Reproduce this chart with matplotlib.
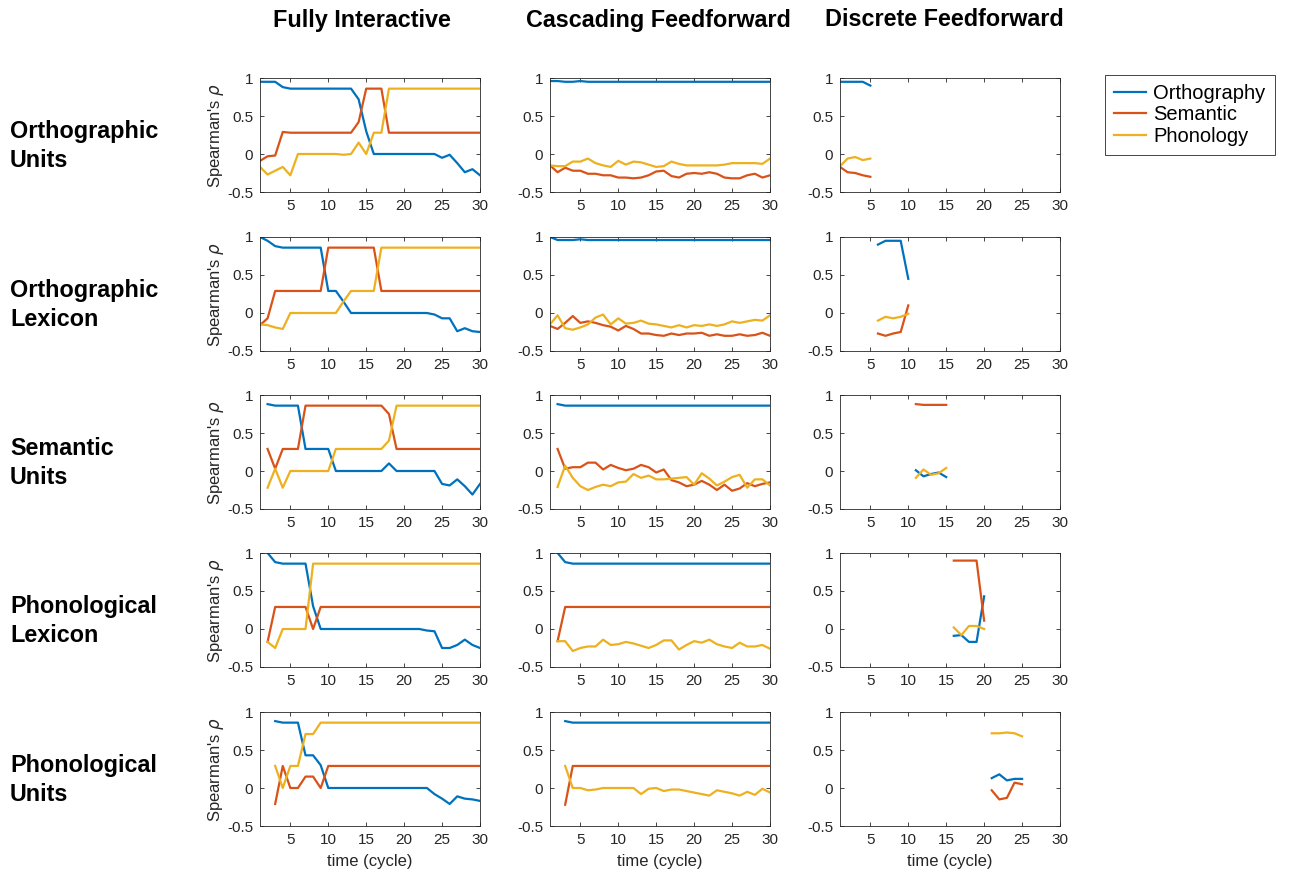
import numpy as np
import matplotlib
matplotlib.use('Agg')
import matplotlib.pyplot as plt

plt.rcParams['font.family'] = ['Liberation Sans', 'DejaVu Sans']
plt.rcParams['mathtext.fontset'] = 'dejavusans'

# column / row names
models = ['Fully Interactive', 'Cascading Feedforward', 'Discrete Feedforward']
layers = ['Orthographic\nUnits', 'Orthographic\nLexicon', 'Semantic\nUnits',
          'Phonological\nLexicon', 'Phonological\nUnits']
series_names = ['Orthography', 'Semantic', 'Phonology']

# ---- Fully Interactive ----
fi_ou_start = 1
fi_ou_orth = [0.95, 0.95, 0.95, 0.88, 0.86, 0.86, 0.86, 0.86, 0.86, 0.86, 0.86, 0.86, 0.86, 0.72, 0.30,
              0.00, 0.00, 0.00, 0.00, 0.00, 0.00, 0.00, 0.00, 0.00, -0.05, -0.01, -0.12, -0.24, -0.20, -0.28]
fi_ou_sem = [-0.09, -0.03, -0.02, 0.29, 0.28, 0.28, 0.28, 0.28, 0.28, 0.28, 0.28, 0.28, 0.28, 0.42, 0.86,
             0.86, 0.86, 0.28, 0.28, 0.28, 0.28, 0.28, 0.28, 0.28, 0.28, 0.28, 0.28, 0.28, 0.28, 0.28]
fi_ou_phon = [-0.17, -0.27, -0.22, -0.17, -0.28, 0.00, 0.00, 0.00, 0.00, 0.00, 0.00, -0.01, 0.00, 0.15, 0.00,
              0.28, 0.28, 0.86, 0.86, 0.86, 0.86, 0.86, 0.86, 0.86, 0.86, 0.86, 0.86, 0.86, 0.86, 0.86]

fi_ol_start = 1
fi_ol_orth = [1.00, 0.95, 0.88, 0.86, 0.86, 0.86, 0.86, 0.86, 0.86, 0.29, 0.29, 0.15, 0.00, 0.00, 0.00,
              0.00, 0.00, 0.00, 0.00, 0.00, 0.00, 0.00, 0.00, -0.02, -0.07, -0.07, -0.24, -0.20, -0.24, -0.25]
fi_ol_sem = [-0.16, -0.07, 0.29, 0.29, 0.29, 0.29, 0.29, 0.29, 0.29, 0.86, 0.86, 0.86, 0.86, 0.86, 0.86,
             0.86, 0.29, 0.29, 0.29, 0.29, 0.29, 0.29, 0.29, 0.29, 0.29, 0.29, 0.29, 0.29, 0.29, 0.29]
fi_ol_phon = [-0.15, -0.16, -0.19, -0.21, 0.00, 0.00, 0.00, 0.00, 0.00, 0.00, 0.00, 0.15, 0.29, 0.29, 0.29,
              0.29, 0.86, 0.86, 0.86, 0.86, 0.86, 0.86, 0.86, 0.86, 0.86, 0.86, 0.86, 0.86, 0.86, 0.86]

fi_su_start = 2
fi_su_orth = [0.88, 0.86, 0.86, 0.86, 0.86, 0.29, 0.29, 0.29, 0.29, 0.00, 0.00, 0.00, 0.00, 0.00, 0.00,
              0.00, 0.10, 0.00, 0.00, 0.00, 0.00, 0.00, 0.00, -0.17, -0.19, -0.11, -0.20, -0.31, -0.17]
fi_su_sem = [0.29, 0.03, 0.29, 0.29, 0.29, 0.86, 0.86, 0.86, 0.86, 0.86, 0.86, 0.86, 0.86, 0.86, 0.86,
             0.86, 0.75, 0.29, 0.29, 0.29, 0.29, 0.29, 0.29, 0.29, 0.29, 0.29, 0.29, 0.29, 0.29]
fi_su_phon = [-0.22, 0.03, -0.22, 0.00, 0.00, 0.00, 0.00, 0.00, 0.00, 0.29, 0.29, 0.29, 0.29, 0.29, 0.29,
              0.29, 0.40, 0.86, 0.86, 0.86, 0.86, 0.86, 0.86, 0.86, 0.86, 0.86, 0.86, 0.86, 0.86]

fi_pl_start = 2
fi_pl_orth = [1.00, 0.88, 0.86, 0.86, 0.86, 0.86, 0.30, 0.00, 0.00, 0.00, 0.00, 0.00, 0.00, 0.00, 0.00,
              0.00, 0.00, 0.00, 0.00, 0.00, 0.00, -0.02, -0.03, -0.25, -0.25, -0.21, -0.14, -0.21, -0.25]
fi_pl_sem = [-0.17, 0.29, 0.29, 0.29, 0.29, 0.29, 0.00, 0.29, 0.29, 0.29, 0.29, 0.29, 0.29, 0.29, 0.29,
             0.29, 0.29, 0.29, 0.29, 0.29, 0.29, 0.29, 0.29, 0.29, 0.29, 0.29, 0.29, 0.29, 0.29]
fi_pl_phon = [-0.17, -0.25, 0.00, 0.00, 0.00, 0.00, 0.86, 0.86, 0.86, 0.86, 0.86, 0.86, 0.86, 0.86, 0.86,
              0.86, 0.86, 0.86, 0.86, 0.86, 0.86, 0.86, 0.86, 0.86, 0.86, 0.86, 0.86, 0.86, 0.86]

fi_pu_start = 3
fi_pu_orth = [0.88, 0.86, 0.86, 0.86, 0.43, 0.43, 0.30, 0.00, 0.00, 0.00, 0.00, 0.00, 0.00, 0.00, 0.00,
              0.00, 0.00, 0.00, 0.00, 0.00, 0.00, -0.08, -0.14, -0.21, -0.11, -0.14, -0.15, -0.17]
fi_pu_sem = [-0.21, 0.29, 0.00, 0.00, 0.15, 0.15, 0.00, 0.29, 0.29, 0.29, 0.29, 0.29, 0.29, 0.29, 0.29,
             0.29, 0.29, 0.29, 0.29, 0.29, 0.29, 0.29, 0.29, 0.29, 0.29, 0.29, 0.29, 0.29]
fi_pu_phon = [0.29, 0.00, 0.29, 0.29, 0.71, 0.71, 0.86, 0.86, 0.86, 0.86, 0.86, 0.86, 0.86, 0.86, 0.86,
              0.86, 0.86, 0.86, 0.86, 0.86, 0.86, 0.86, 0.86, 0.86, 0.86, 0.86, 0.86, 0.86]

# ---- Cascading Feedforward ----
cf_ou_start = 1
cf_ou_orth = [0.96, 0.96, 0.95, 0.95, 0.96, 0.95, 0.95, 0.95, 0.95, 0.95, 0.95, 0.95, 0.95, 0.95, 0.95,
              0.95, 0.95, 0.95, 0.95, 0.95, 0.95, 0.95, 0.95, 0.95, 0.95, 0.95, 0.95, 0.95, 0.95, 0.95]
cf_ou_sem = [-0.15, -0.24, -0.18, -0.22, -0.22, -0.26, -0.26, -0.28, -0.28, -0.31, -0.31, -0.32, -0.31, -0.28, -0.23,
             -0.22, -0.29, -0.31, -0.26, -0.25, -0.26, -0.24, -0.26, -0.31, -0.32, -0.32, -0.28, -0.26, -0.31, -0.28]
cf_ou_phon = [-0.15, -0.16, -0.16, -0.10, -0.10, -0.06, -0.12, -0.15, -0.17, -0.09, -0.14, -0.10, -0.11, -0.14, -0.17,
              -0.16, -0.10, -0.13, -0.15, -0.15, -0.15, -0.15, -0.15, -0.14, -0.12, -0.12, -0.12, -0.12, -0.13, -0.06]

cf_ol_start = 1
cf_ol_orth = [1.00, 0.96, 0.96, 0.96, 0.97, 0.96, 0.96, 0.96, 0.96, 0.96, 0.96, 0.96, 0.96, 0.96, 0.96,
              0.96, 0.96, 0.96, 0.96, 0.96, 0.96, 0.96, 0.96, 0.96, 0.96, 0.96, 0.96, 0.96, 0.96, 0.96]
cf_ol_sem = [-0.17, -0.21, -0.13, -0.04, -0.13, -0.11, -0.13, -0.16, -0.18, -0.23, -0.17, -0.21, -0.27, -0.27, -0.29,
             -0.30, -0.27, -0.29, -0.27, -0.27, -0.26, -0.30, -0.28, -0.30, -0.30, -0.28, -0.30, -0.29, -0.26, -0.30]
cf_ol_phon = [-0.15, -0.03, -0.20, -0.22, -0.19, -0.15, -0.06, -0.02, -0.15, -0.07, -0.14, -0.13, -0.10, -0.14, -0.15,
              -0.17, -0.19, -0.16, -0.19, -0.16, -0.17, -0.15, -0.17, -0.15, -0.11, -0.13, -0.11, -0.09, -0.10, -0.03]

cf_su_start = 2
cf_su_orth = [0.88, 0.86, 0.86, 0.86, 0.86, 0.86, 0.86, 0.86, 0.86, 0.86, 0.86, 0.86, 0.86, 0.86, 0.86,
              0.86, 0.86, 0.86, 0.86, 0.86, 0.86, 0.86, 0.86, 0.86, 0.86, 0.86, 0.86, 0.86, 0.86]
cf_su_sem = [0.29, 0.03, 0.05, 0.05, 0.11, 0.11, 0.02, 0.08, 0.04, 0.01, 0.03, 0.08, 0.05, -0.02, 0.02,
             -0.12, -0.15, -0.20, -0.18, -0.13, -0.18, -0.25, -0.18, -0.26, -0.23, -0.16, -0.20, -0.17, -0.15]
cf_su_phon = [-0.21, 0.07, -0.09, -0.20, -0.25, -0.21, -0.18, -0.20, -0.15, -0.14, -0.04, -0.09, -0.06, -0.11, -0.11,
              -0.10, -0.09, -0.08, -0.18, -0.03, -0.10, -0.19, -0.14, -0.08, -0.05, -0.22, -0.11, -0.11, -0.19]

cf_pl_start = 2
cf_pl_orth = [1.00, 0.88, 0.86, 0.86, 0.86, 0.86, 0.86, 0.86, 0.86, 0.86, 0.86, 0.86, 0.86, 0.86, 0.86,
              0.86, 0.86, 0.86, 0.86, 0.86, 0.86, 0.86, 0.86, 0.86, 0.86, 0.86, 0.86, 0.86, 0.86]
cf_pl_sem = [-0.16, 0.29, 0.29, 0.29, 0.29, 0.29, 0.29, 0.29, 0.29, 0.29, 0.29, 0.29, 0.29, 0.29, 0.29,
             0.29, 0.29, 0.29, 0.29, 0.29, 0.29, 0.29, 0.29, 0.29, 0.29, 0.29, 0.29, 0.29, 0.29]
cf_pl_phon = [-0.16, -0.16, -0.29, -0.25, -0.23, -0.23, -0.14, -0.21, -0.20, -0.17, -0.19, -0.22, -0.25, -0.21, -0.15,
              -0.15, -0.27, -0.21, -0.16, -0.18, -0.14, -0.20, -0.23, -0.25, -0.18, -0.23, -0.23, -0.21, -0.26]

cf_pu_start = 3
cf_pu_orth = [0.88, 0.86, 0.86, 0.86, 0.86, 0.86, 0.86, 0.86, 0.86, 0.86, 0.86, 0.86, 0.86, 0.86, 0.86,
              0.86, 0.86, 0.86, 0.86, 0.86, 0.86, 0.86, 0.86, 0.86, 0.86, 0.86, 0.86, 0.86]
cf_pu_sem = [-0.22, 0.29, 0.29, 0.29, 0.29, 0.29, 0.29, 0.29, 0.29, 0.29, 0.29, 0.29, 0.29, 0.29, 0.29,
             0.29, 0.29, 0.29, 0.29, 0.29, 0.29, 0.29, 0.29, 0.29, 0.29, 0.29, 0.29, 0.29]
cf_pu_phon = [0.29, 0.00, 0.00, -0.03, -0.02, 0.00, 0.00, 0.00, 0.00, 0.00, -0.08, -0.01, 0.00, -0.04, -0.02,
              -0.02, -0.04, -0.06, -0.08, -0.10, -0.03, -0.05, -0.07, -0.10, -0.05, -0.09, -0.01, -0.06]

# ---- Discrete Feedforward ----
df_ou_start = 1
df_ou_orth = [0.95, 0.95, 0.95, 0.95, 0.90]
df_ou_sem = [-0.17, -0.24, -0.25, -0.28, -0.30]
df_ou_phon = [-0.16, -0.06, -0.04, -0.08, -0.06]

df_ol_start = 6
df_ol_orth = [0.90, 0.95, 0.95, 0.95, 0.45]
df_ol_sem = [-0.27, -0.30, -0.27, -0.25, 0.10]
df_ol_phon = [-0.10, -0.05, -0.07, -0.05, -0.01]

df_su_start = 11
df_su_orth = [0.01, -0.07, -0.04, -0.02, -0.08]
df_su_sem = [0.88, 0.87, 0.87, 0.87, 0.87]
df_su_phon = [-0.09, 0.02, -0.05, -0.03, 0.04]

df_pl_start = 16
df_pl_orth = [-0.09, -0.08, -0.17, -0.17, 0.43]
df_pl_sem = [0.90, 0.90, 0.90, 0.90, 0.11]
df_pl_phon = [0.02, -0.08, 0.04, 0.04, 0.00]

df_pu_start = 21
df_pu_orth = [0.13, 0.18, 0.10, 0.12, 0.12]
df_pu_sem = [-0.03, -0.15, -0.13, 0.07, 0.05]
df_pu_phon = [0.72, 0.72, 0.73, 0.72, 0.68]

panels = [
    [(fi_ou_start, fi_ou_orth, fi_ou_sem, fi_ou_phon),
     (cf_ou_start, cf_ou_orth, cf_ou_sem, cf_ou_phon),
     (df_ou_start, df_ou_orth, df_ou_sem, df_ou_phon)],
    [(fi_ol_start, fi_ol_orth, fi_ol_sem, fi_ol_phon),
     (cf_ol_start, cf_ol_orth, cf_ol_sem, cf_ol_phon),
     (df_ol_start, df_ol_orth, df_ol_sem, df_ol_phon)],
    [(fi_su_start, fi_su_orth, fi_su_sem, fi_su_phon),
     (cf_su_start, cf_su_orth, cf_su_sem, cf_su_phon),
     (df_su_start, df_su_orth, df_su_sem, df_su_phon)],
    [(fi_pl_start, fi_pl_orth, fi_pl_sem, fi_pl_phon),
     (cf_pl_start, cf_pl_orth, cf_pl_sem, cf_pl_phon),
     (df_pl_start, df_pl_orth, df_pl_sem, df_pl_phon)],
    [(fi_pu_start, fi_pu_orth, fi_pu_sem, fi_pu_phon),
     (cf_pu_start, cf_pu_orth, cf_pu_sem, cf_pu_phon),
     (df_pu_start, df_pu_orth, df_pu_sem, df_pu_phon)],
]

colors = ['#0072BD', '#D95319', '#EDB120']
dark = '#262626'

W, H = 1289, 877
fig = plt.figure(figsize=(W / 100, H / 100), dpi=100)

col_left = [260, 550, 840]
title_x = [362, 658, 944]
row_top = [78, 237, 395, 553, 712]
ax_w, ax_h = 220, 114

for r in range(5):
    for c in range(3):
        x0, y0 = col_left[c], row_top[r]
        ax = fig.add_axes([x0 / W, 1 - (y0 + ax_h) / H, ax_w / W, ax_h / H])
        start, orth, sem, phon = panels[r][c]
        lines = []
        for vals, col, name in zip([orth, sem, phon], colors, series_names):
            t = np.arange(start, start + len(vals))
            ln, = ax.plot(t, vals, color=col, lw=1.6, label=name)
            lines.append(ln)
        ax.set_xlim(1, 30)
        ax.set_ylim(-0.5, 1)
        ax.set_xticks([5, 10, 15, 20, 25, 30])
        ax.set_yticks([-0.5, 0, 0.5, 1])
        ax.set_yticklabels(['-0.5', '0', '0.5', '1'])
        ax.tick_params(direction='in', top=True, right=True, length=3, width=0.6,
                       labelsize=11, colors=dark, pad=5)
        for sp in ax.spines.values():
            sp.set_color(dark)
            sp.set_linewidth(0.6)
        if c == 0:
            ax.set_ylabel("Spearman's $\\rho$", fontsize=12, color=dark, labelpad=1)
        if r == 4:
            ax.set_xlabel('time (cycle)', fontsize=12, color=dark, labelpad=5)
        if r == 0:
            fig.text(title_x[c] / W, 1 - 20 / H, models[c], ha='center', va='center',
                     fontsize=16.8, fontweight='bold', color='black')
    fig.text(10 / W, 1 - (row_top[r] + ax_h / 2 + 11) / H, layers[r], ha='left', va='center',
             fontsize=16.8, fontweight='bold', color='black', linespacing=1.3)

leg = fig.legend(lines, series_names, loc='upper left', bbox_to_anchor=(1105 / W, 1 - 75 / H),
                 fontsize=14.5, frameon=True, fancybox=False, edgecolor=dark, framealpha=1,
                 handlelength=1.6, handletextpad=0.35, labelspacing=0.12, borderpad=0.45,
                 borderaxespad=0)
leg.get_frame().set_linewidth(0.6)

fig.savefig('out.png', dpi=100, facecolor='white')
